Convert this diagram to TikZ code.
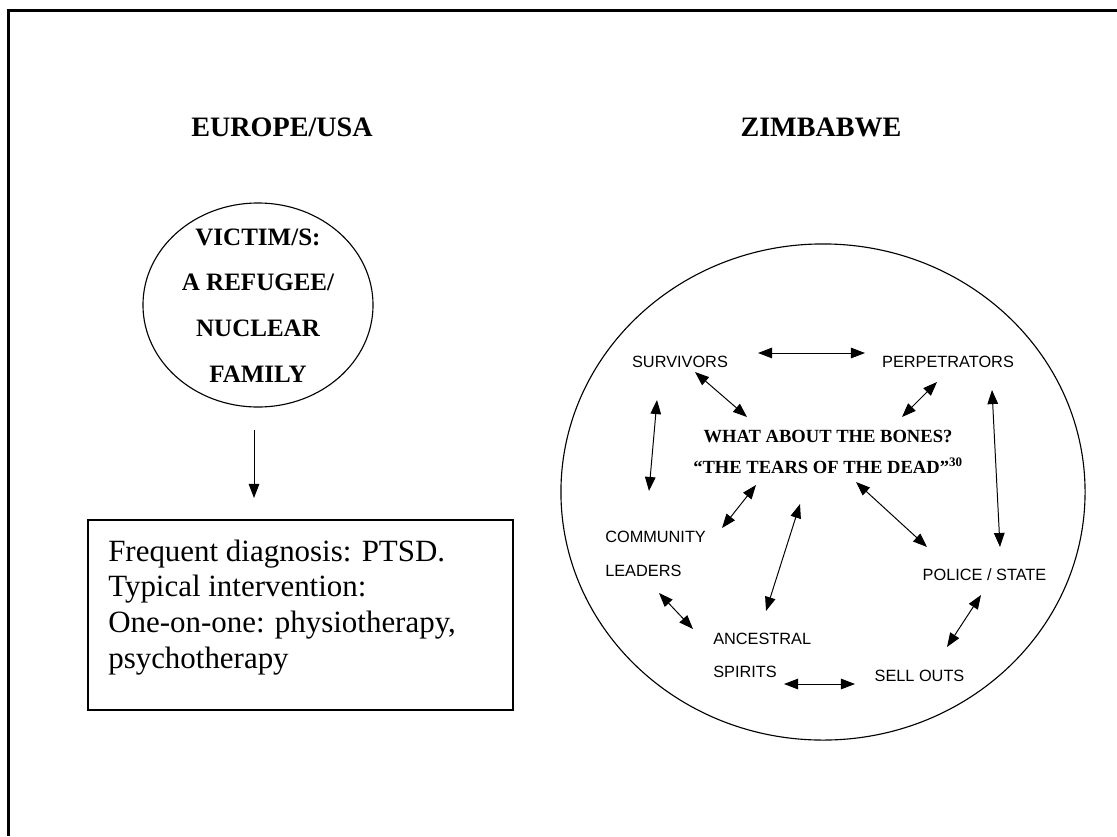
\documentclass[tikz,border=0pt]{standalone}
\usepackage{fontspec}
\setmainfont{Liberation Serif}
\newfontfamily\arialfont{Liberation Sans}
\usetikzlibrary{arrows.meta,shapes.geometric}
\begin{document}
\begin{tikzpicture}[x=0.025cm,y=-0.025cm]
\useasboundingbox (0,0) rectangle (1117,836);
\tikzstyle{title}=[font=\fontsize{20}{24}\selectfont\bfseries,inner sep=0pt,anchor=base]
\tikzstyle{victim}=[font=\fontsize{17.8}{20}\selectfont\bfseries,inner sep=0pt,anchor=base]
\tikzstyle{diag}=[font=\fontsize{22}{26}\selectfont,inner sep=0pt,anchor=base west]
\tikzstyle{actor}=[font=\arialfont\fontsize{11.6}{14}\selectfont,inner sep=0pt,anchor=base]
\tikzstyle{bones}=[font=\fontsize{13.2}{16}\selectfont\bfseries,inner sep=0pt,anchor=base]
\tikzstyle{ring}=[draw,ellipse,line width=0.8pt,inner sep=0pt]
\tikzstyle{link}=[line width=0.7pt,{Triangle[length=10pt,width=7.5pt]}-{Triangle[length=10pt,width=7.5pt]}]

\draw[line width=1.6pt] (1117,10.5) -- (8.5,10.5) -- (8.5,836);

\node[title] (europe) at (282,136) {EUROPE/USA};
\node[title] (zimbabwe) at (821,136) {ZIMBABWE};

\node[ring,minimum width=5.75cm,minimum height=5.1cm] (victims) at (258,305) {};
\foreach \text [count=\i] in {VICTIM/S:, A REFUGEE/, NUCLEAR, FAMILY}
  \node[victim] (victim-\i) at (258,{245+45.7*(\i-1)}) {\text};

\coordinate (down-a) at (254,430);
\coordinate (down-b) at (254,498);
\draw[line width=0.7pt,-{Triangle[length=10pt,width=7.5pt]}] (down-a) -- (down-b);

\node[draw,line width=1.3pt,minimum width=10.625cm,minimum height=4.75cm] (diagnosis) at (300.5,615) {};
\foreach \text [count=\i] in {Frequent diagnosis: PTSD., Typical intervention:, {One-on-one: physiotherapy,}, psychotherapy}
  \node[diag] (diag-\i) at (108,{561+35.7*(\i-1)}) {\text};

\node[ring,minimum width=13.1cm,minimum height=12.4cm] (zimring) at (823,492) {};

\node[actor] (survivors) at (680,367) {SURVIVORS};
\node[actor] (perpetrators) at (948,367) {PERPETRATORS};
\node[actor,anchor=base west] (community) at (605,542) {COMMUNITY};
\node[actor,anchor=base west] (leaders) at (605,576) {LEADERS};
\node[actor] (police) at (984.5,580) {POLICE / STATE};
\node[actor,anchor=base west] (ancestral) at (713,644) {ANCESTRAL};
\node[actor,anchor=base west] (spirits) at (713,677) {SPIRITS};
\node[actor] (sellouts) at (919.5,681) {SELL OUTS};

\node[bones] (bones-1) at (828,442) {WHAT ABOUT THE BONES?};
\node[bones] (bones-2) at (828,473) {“THE TEARS OF THE DEAD”\textsuperscript{30}};

\foreach \name/\x/\y in {sp-a/758/353, sp-b/865/353, sc-a/695/372, sc-b/747/417,
    pc-a/937/382, pc-b/902/417, sl-a/657/400, sl-b/649/491, cl-a/756/485, cl-b/722/528,
    ca-a/800/504, ca-b/766/611, cs-a/856/482, cs-b/927/547, ps-a/992/390, ps-b/1000/547,
    la-a/659/593, la-b/693/629, ao-a/784/684, ao-b/855/684, so-a/981/595, so-b/947/647}
  \coordinate (\name) at (\x,\y);
\foreach \from/\to in {sp-a/sp-b, sc-a/sc-b, pc-a/pc-b, sl-a/sl-b, cl-a/cl-b, ca-a/ca-b,
    cs-a/cs-b, ps-a/ps-b, la-a/la-b, ao-a/ao-b, so-a/so-b}
  { \draw[link] (\from) -- (\to); }

\end{tikzpicture}
\end{document}
